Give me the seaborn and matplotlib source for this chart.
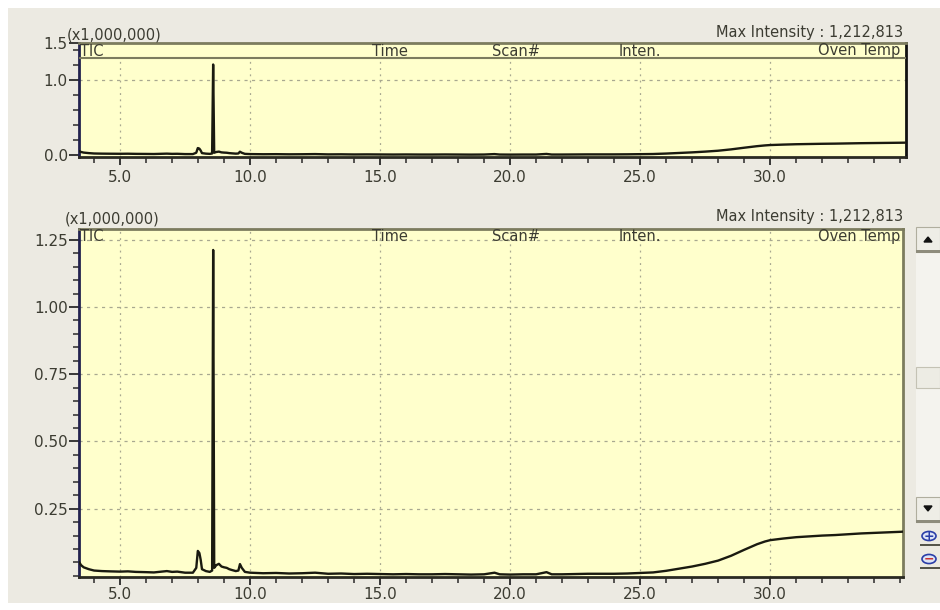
import numpy as np
import pandas as pd
import matplotlib
matplotlib.use("Agg")
import matplotlib.pyplot as plt
from matplotlib.patches import Rectangle, Circle, Polygon
from matplotlib.ticker import FixedLocator, MultipleLocator, FormatStrFormatter
import seaborn as sns

# ---------------- data (retention time in min, intensity in x1,000,000) -----------
time_min = [3.42, 3.5, 3.6, 3.8, 4.0, 4.3, 4.6, 5.0, 5.3, 5.6, 6.0, 6.3, 6.6, 6.8,
            7.0, 7.2, 7.5, 7.8, 7.93, 7.99, 8.05, 8.1, 8.15, 8.3, 8.45, 8.54, 8.58,
            8.62, 8.7, 8.8, 8.9, 9.0, 9.1, 9.2, 9.3, 9.45, 9.55, 9.61, 9.68, 9.8,
            10.0, 10.5, 11.0, 11.5, 12.0, 12.5, 13.0, 13.5, 14.0, 14.5, 15.0, 15.5,
            16.0, 16.5, 17.0, 17.5, 18.0, 18.5, 19.0, 19.4, 19.6, 20.0, 20.5, 21.0,
            21.4, 21.6, 22.0, 22.5, 23.0, 23.5, 24.0, 24.5, 25.0, 25.5, 26.0, 26.5,
            27.0, 27.5, 28.0, 28.5, 29.0, 29.5, 29.8, 30.0, 30.5, 31.0, 31.5, 32.0,
            32.5, 33.0, 33.5, 34.0, 34.5, 35.0, 35.2]
intensity = [0.052, 0.040, 0.032, 0.025, 0.020, 0.018, 0.017, 0.016, 0.017, 0.015,
             0.014, 0.013, 0.016, 0.018, 0.015, 0.016, 0.012, 0.012, 0.030, 0.093,
             0.085, 0.060, 0.025, 0.018, 0.015, 0.020, 1.212, 0.030, 0.040, 0.045,
             0.035, 0.032, 0.030, 0.025, 0.022, 0.018, 0.020, 0.044, 0.030, 0.015,
             0.012, 0.010, 0.011, 0.009, 0.010, 0.012, 0.008, 0.009, 0.007, 0.008,
             0.007, 0.006, 0.007, 0.006, 0.006, 0.007, 0.006, 0.005, 0.006, 0.012,
             0.006, 0.005, 0.006, 0.006, 0.014, 0.006, 0.006, 0.007, 0.008, 0.008,
             0.008, 0.009, 0.011, 0.013, 0.019, 0.027, 0.035, 0.045, 0.057, 0.075,
             0.097, 0.118, 0.128, 0.133, 0.139, 0.144, 0.147, 0.150, 0.152, 0.155,
             0.158, 0.160, 0.162, 0.164, 0.165]

x_major = [5.0, 10.0, 15.0, 20.0, 25.0, 30.0]
top_y_major = [0.0, 1.0, 1.5]
bot_y_major = [0.25, 0.50, 0.75, 1.00, 1.25]
header_labels = ["TIC", "Time", "Scan#", "Inten.", "Oven Temp"]
scale_label = "(x1,000,000)"
max_label = "Max Intensity : 1,212,813"

df = pd.DataFrame({"time": time_min, "inten": intensity})

# ---------------- style -----------------
sns.set_style("white")
plt.rcParams["font.family"] = ["DejaVu Sans"]
W, H = 940, 610
BG = "#ECEAE2"
PLOT_BG = "#FFFFCC"
TXT = "#3C3C32"
LINE = "#1A1A10"
GRID = "#A8A890"
OLIVE = "#7C7C5E"
NAVY = "#22224E"


def fx(x):
    return x / W


def fy(y):
    return 1 - y / H


fig = plt.figure(figsize=(W / 100, H / 100), dpi=100, facecolor="white")
fig.patches.append(Rectangle((fx(8), fy(603)), (W - 8) / W, (603 - 8) / H,
                             transform=fig.transFigure, facecolor=BG,
                             edgecolor="none", zorder=-10))


def make_axes(left, top, right, bottom):
    return fig.add_axes([fx(left), fy(bottom), (right - left) / W, (bottom - top) / H])


ax1 = make_axes(79, 43, 906, 157)
ax2 = make_axes(79, 229, 903, 577)

for ax in (ax1, ax2):
    ax.set_facecolor(PLOT_BG)
    sns.lineplot(data=df, x="time", y="inten", ax=ax, color=LINE, lw=1.7,
                 estimator=None, sort=False, zorder=3)
    ax.set_xlabel("")
    ax.set_ylabel("")
    ax.xaxis.set_major_locator(FixedLocator(x_major))
    ax.xaxis.set_minor_locator(MultipleLocator(1.0))
    ax.xaxis.set_major_formatter(FormatStrFormatter("%.1f"))
    ax.tick_params(axis="both", which="both", direction="out", colors="#2A2A2A",
                   labelcolor=TXT, labelsize=11, left=True, bottom=True,
                   top=False, right=False)
    ax.tick_params(axis="x", which="major", length=6, width=1.3, pad=1)
    ax.tick_params(axis="x", which="minor", length=4, width=1.1)
    ax.tick_params(axis="y", which="major", length=7, width=1.3, pad=1)
    ax.tick_params(axis="y", which="minor", length=4.5, width=1.1)
    ax.spines["left"].set_color(NAVY)
    ax.spines["left"].set_linewidth(2.0)
    ax.spines["bottom"].set_color("#2A2A22")
    ax.spines["bottom"].set_linewidth(2.0)
    ax.spines["top"].set_color(OLIVE)
    ax.spines["top"].set_linewidth(2.0)
    ax.spines["right"].set_linewidth(2.0)
    for xv in x_major:
        ax.axvline(xv, color=GRID, lw=0.9, ls=(0, (1.5, 3.5)), zorder=1)

# top panel
ax1.set_xlim(3.42, 35.23)
ax1.set_ylim(-0.027, 1.5)
ax1.yaxis.set_major_locator(FixedLocator(top_y_major))
ax1.yaxis.set_minor_locator(MultipleLocator(0.2))
ax1.yaxis.set_major_formatter(FormatStrFormatter("%.1f"))
ax1.axhline(1.0, color=GRID, lw=0.9, ls=(0, (2.5, 3.5)), zorder=1)
ax1.axhline(1.30, color=OLIVE, lw=1.5, zorder=4)
ax1.axhspan(1.30, 1.5, color=PLOT_BG, zorder=2)
ax1.spines["right"].set_color("#111111")
ax1.tick_params(axis="x", which="major", pad=3)

# bottom panel
ax2.set_xlim(3.42, 35.11)
ax2.set_ylim(-0.004, 1.29)
ax2.yaxis.set_major_locator(FixedLocator(bot_y_major))
ax2.yaxis.set_minor_locator(MultipleLocator(0.05))
ax2.yaxis.set_major_formatter(FormatStrFormatter("%.2f"))
for yv in bot_y_major:
    ax2.axhline(yv, color=GRID, lw=0.9, ls=(0, (2.5, 3.5)), zorder=1)
ax2.spines["right"].set_color(OLIVE)

# ---------------- texts -----------------
header_x = [80, 372, 492, 619, 900]
for top_y in (51, 236):
    for i, (lab, x) in enumerate(zip(header_labels, header_x)):
        ha = "right" if i == len(header_labels) - 1 else "left"
        fig.text(fx(x), fy(top_y), lab, ha=ha, va="center", fontsize=10.5,
                 color=TXT, zorder=6)

fig.text(fx(67), fy(35), scale_label, ha="left", va="center", fontsize=10.5, color=TXT)
fig.text(fx(903), fy(32), max_label, ha="right", va="center", fontsize=10.5, color=TXT)
fig.text(fx(65), fy(219), scale_label, ha="left", va="center", fontsize=10.5, color=TXT)
fig.text(fx(903), fy(217), max_label, ha="right", va="center", fontsize=10.5, color=TXT)

# ---------------- scrollbar & zoom icons -----------------
def rect(x0, y0, x1, y1, **kw):
    fig.patches.append(Rectangle((fx(x0), fy(y1)), (x1 - x0) / W, (y1 - y0) / H,
                                 transform=fig.transFigure, **kw))


rect(916, 227, 940, 522, facecolor="#F4F3EE", edgecolor="none")
rect(916, 227, 940, 252, facecolor="#EEEDE6", edgecolor="#B0AE9E", lw=0.8)
rect(916, 250, 940, 253, facecolor="#8E8C7C", edgecolor="none")
rect(916, 367, 940, 388, facecolor="#EDECE4", edgecolor="#C4C2B4", lw=0.8)
rect(916, 497, 940, 522, facecolor="#EEEDE6", edgecolor="#B0AE9E", lw=0.8)
rect(916, 520, 940, 523, facecolor="#8E8C7C", edgecolor="none")
fig.patches.append(Polygon([(fx(924), fy(242)), (fx(932), fy(242)), (fx(928), fy(237))],
                           closed=True, transform=fig.transFigure, color="#111111"))
fig.patches.append(Polygon([(fx(924), fy(506)), (fx(932), fy(506)), (fx(928), fy(511))],
                           closed=True, transform=fig.transFigure, color="#111111"))
for cy, sym, col in ((536, "+", "#2A3EA8"), (559, "\u2212", "#C83030")):
    fig.patches.append(Circle((fx(929), fy(cy)), 7 / W, transform=fig.transFigure,
                              facecolor="#DDE4F6", edgecolor="#2A3EA8", lw=1.2))
    fig.text(fx(929), fy(cy), sym, ha="center", va="center", fontsize=9,
             color=col, fontweight="bold")
    rect(920, cy + 8, 940, cy + 10, facecolor="#55554A", edgecolor="none")

fig.savefig("out.png", dpi=100, facecolor=fig.get_facecolor())
